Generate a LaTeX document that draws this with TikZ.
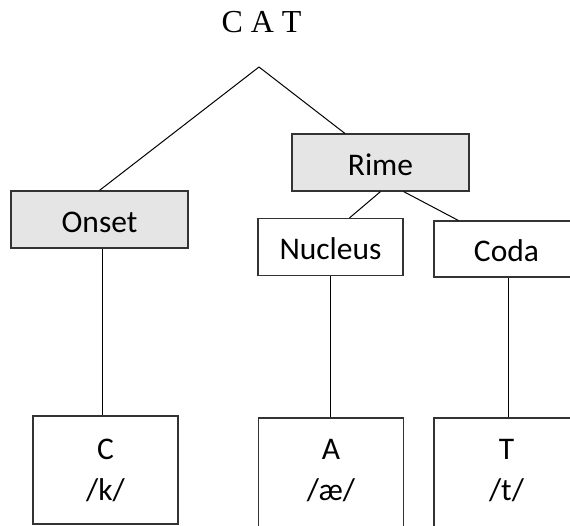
\documentclass[tikz,border=0pt]{standalone}
\usepackage{fontspec}
\setmainfont{Carlito}
\newfontfamily\timesfont{Liberation Serif}
\usetikzlibrary{calc}
\newcommand{\lowpad}{\rule[-10pt]{0pt}{0pt}}
\begin{document}
\begin{tikzpicture}[x=1pt,y=-1pt,
  box/.style={draw=black!80, line width=1.2pt, rectangle, inner sep=0pt,
    font=\fontsize{31.5}{41}\selectfont},
  single/.style={box, text height=25pt, text depth=0pt},
  wide/.style={minimum width=177pt, minimum height=57pt},
  narrow/.style={minimum width=145pt, minimum height=57pt},
  leaf/.style={box, align=center, minimum width=145pt, minimum height=108pt},
  shaded/.style={fill=black!10},
  link/.style={line width=1pt, draw=black}]
\useasboundingbox (0,0) rectangle (570,525);
\clip (0,0) rectangle (570,525);
\node[anchor=base, font=\timesfont\fontsize{32}{36}\selectfont] (title) at (261.5,32) {C A T};
\coordinate (apex) at (259,67);
\node[single, shaded, wide] (onset) at (99.5,219.5) {Onset};
\node[single, shaded, wide] (rime) at (380.5,162.5) {Rime};
\node[single, narrow] (nucleus) at (330.5,247) {Nucleus};
\node[single, narrow, minimum height=56pt] (coda) at (506.5,249) {Coda};
\node[leaf] (cbox) at (105.5,470) {C\\/k/};
\node[leaf, minimum height=114pt] (abox) at (331,475) {A\\/æ/\lowpad};
\node[leaf, minimum height=114pt] (tbox) at (506.5,475) {T\\/t/\lowpad};
% connectors
\draw[link] (apex) -- (onset.north);
\draw[link] (apex) -- ($(rime.north west)!0.3!(rime.north east)$);
\draw[link] (rime.south) -- ($(nucleus.north west)!0.63!(nucleus.north east)$);
\draw[link] ($(rime.south west)!0.63!(rime.south east)$) -- ($(coda.north west)!0.17!(coda.north east)$);
\coordinate (ol) at ([xshift=2.5pt]onset.south);
\draw[link] (ol) -- (ol |- cbox.north);
\draw[link] (nucleus.south) -- (nucleus.south |- abox.north);
\coordinate (cl) at ([xshift=1.5pt]coda.south);
\draw[link] (cl) -- (cl |- tbox.north);
\end{tikzpicture}
\end{document}
